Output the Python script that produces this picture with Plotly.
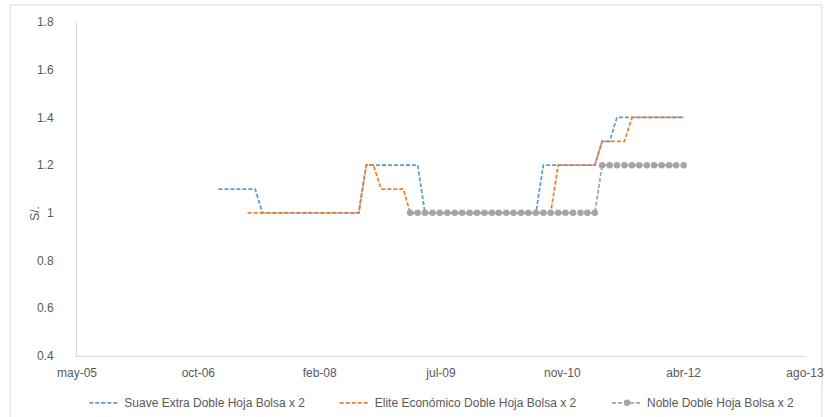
import pandas as pd
import plotly.graph_objects as go

# Monthly price points, Jan 2007 .. Apr 2012 (soles)
months = pd.date_range("2007-01-01", "2012-04-01", freq="MS")

suave = [
    1.1, 1.1, 1.1, 1.1, 1.1, 1.1,                       # 2007-01..06
    1.0, 1.0, 1.0, 1.0, 1.0, 1.0,                       # 2007-07..12
    1.0, 1.0, 1.0, 1.0, 1.0, 1.0, 1.0, 1.0,             # 2008-01..08
    1.2, 1.2, 1.2, 1.2,                                 # 2008-09..12
    1.2, 1.2, 1.2, 1.2,                                 # 2009-01..04
    1.0, 1.0, 1.0, 1.0, 1.0, 1.0, 1.0, 1.0,             # 2009-05..12
    1.0, 1.0, 1.0, 1.0, 1.0, 1.0, 1.0, 1.0,             # 2010-01..08
    1.2, 1.2, 1.2, 1.2,                                 # 2010-09..12
    1.2, 1.2, 1.2, 1.2,                                 # 2011-01..04
    1.3, 1.3,                                           # 2011-05..06
    1.4, 1.4, 1.4, 1.4, 1.4, 1.4,                       # 2011-07..12
    1.4, 1.4, 1.4, 1.4,                                 # 2012-01..04
]

elite = [
    None, None, None, None,                             # 2007-01..04
    1.0, 1.0, 1.0, 1.0, 1.0, 1.0, 1.0, 1.0,             # 2007-05..12
    1.0, 1.0, 1.0, 1.0, 1.0, 1.0, 1.0, 1.0,             # 2008-01..08
    1.2, 1.2,                                           # 2008-09..10
    1.1, 1.1,                                           # 2008-11..12
    1.1, 1.1,                                           # 2009-01..02
    1.0, 1.0, 1.0, 1.0, 1.0, 1.0, 1.0, 1.0, 1.0, 1.0,   # 2009-03..12
    1.0, 1.0, 1.0, 1.0, 1.0, 1.0, 1.0, 1.0, 1.0, 1.0,   # 2010-01..10
    1.2, 1.2,                                           # 2010-11..12
    1.2, 1.2, 1.2, 1.2,                                 # 2011-01..04
    1.3, 1.3, 1.3, 1.3,                                 # 2011-05..08
    1.4, 1.4, 1.4, 1.4,                                 # 2011-09..12
    1.4, 1.4, 1.4, 1.4,                                 # 2012-01..04
]

noble = [
    None, None, None, None, None, None,                 # 2007-01..06
    None, None, None, None, None, None,                 # 2007-07..12
    None, None, None, None, None, None,                 # 2008-01..06
    None, None, None, None, None, None,                 # 2008-07..12
    None, None,                                         # 2009-01..02
    1.0, 1.0, 1.0, 1.0, 1.0, 1.0, 1.0, 1.0, 1.0, 1.0,   # 2009-03..12
    1.0, 1.0, 1.0, 1.0, 1.0, 1.0,                       # 2010-01..06
    1.0, 1.0, 1.0, 1.0, 1.0, 1.0,                       # 2010-07..12
    1.0, 1.0, 1.0, 1.0,                                 # 2011-01..04
    1.2, 1.2, 1.2, 1.2, 1.2, 1.2, 1.2, 1.2,             # 2011-05..12
    1.2, 1.2, 1.2, 1.2,                                 # 2012-01..04
]

series_names = [
    "Suave Extra Doble Hoja Bolsa x 2",
    "Elite Económico Doble Hoja Bolsa x 2",
    "Noble Doble Hoja Bolsa x 2",
]

# Date axis: 500-day major unit starting late May 2005
axis_start = pd.Timestamp("2005-05-28")
tick_step_days = 500
tick_labels = ["may-05", "oct-06", "feb-08", "jul-09", "nov-10", "abr-12", "ago-13"]
tick_vals = [axis_start + pd.Timedelta(days=tick_step_days * i) for i in range(len(tick_labels))]
axis_end = tick_vals[-1]

FONT = "Liberation Sans Narrow, Arial Narrow, Liberation Sans, sans-serif"
TXT = "#595959"
AXIS = "#D9D9D9"

fig = go.Figure()

fig.add_trace(go.Scatter(
    x=months, y=suave, name=series_names[0], mode="lines",
    line=dict(color="#5B9BD5", width=1.75, dash="4px,2px"),
    legend="legend",
))
fig.add_trace(go.Scatter(
    x=months, y=elite, name=series_names[1], mode="lines",
    line=dict(color="#ED7D31", width=1.75, dash="4px,2px"),
    legend="legend2",
))
fig.add_trace(go.Scatter(
    x=months, y=noble, name=series_names[2], mode="lines+markers",
    line=dict(color="#A5A5A5", width=1.75, dash="4px,2px"),
    marker=dict(color="#A5A5A5", size=6.5, symbol="circle"),
    legend="legend3",
))

legend_common = dict(
    orientation="h", yanchor="middle", y=-0.14, xanchor="left",
    font=dict(family=FONT, size=12, color=TXT),
    bgcolor="rgba(0,0,0,0)",
)

fig.update_layout(
    width=825, height=417,
    margin=dict(l=77, r=20, t=22, b=61, autoexpand=False),
    paper_bgcolor="white", plot_bgcolor="white",
    font=dict(family=FONT, size=12, color=TXT),
    showlegend=True,
    legend=dict(x=0.010, **legend_common),
    legend2=dict(x=0.354, **legend_common),
    legend3=dict(x=0.728, **legend_common),
    xaxis=dict(
        type="date", range=[axis_start, axis_end],
        tickmode="array", tickvals=tick_vals, ticktext=tick_labels,
        showgrid=False, zeroline=False, showline=True, linecolor=AXIS, linewidth=1,
        ticks="", tickfont=dict(family=FONT, size=12, color=TXT),
        ticklabelstandoff=6,
    ),
    yaxis=dict(
        range=[0.4, 1.8], dtick=0.2, tick0=0.4,
        showgrid=False, zeroline=False, showline=True, linecolor=AXIS, linewidth=1,
        ticks="", tickfont=dict(family=FONT, size=12, color=TXT),
        ticklabelstandoff=20,
    ),
    annotations=[dict(
        text="S/.", xref="paper", yref="paper", x=-0.058, y=0.428,
        xanchor="center", yanchor="middle",
        textangle=-90, showarrow=False, font=dict(family=FONT, size=12, color=TXT),
    )],
    shapes=[dict(
        type="rect", xref="paper", yref="paper",
        x0=-0.092, x1=1.0234, y0=-0.2, y1=1.051,
        line=dict(color=AXIS, width=1), fillcolor="rgba(0,0,0,0)", layer="below",
    )],
)

fig.write_html("out.html")
